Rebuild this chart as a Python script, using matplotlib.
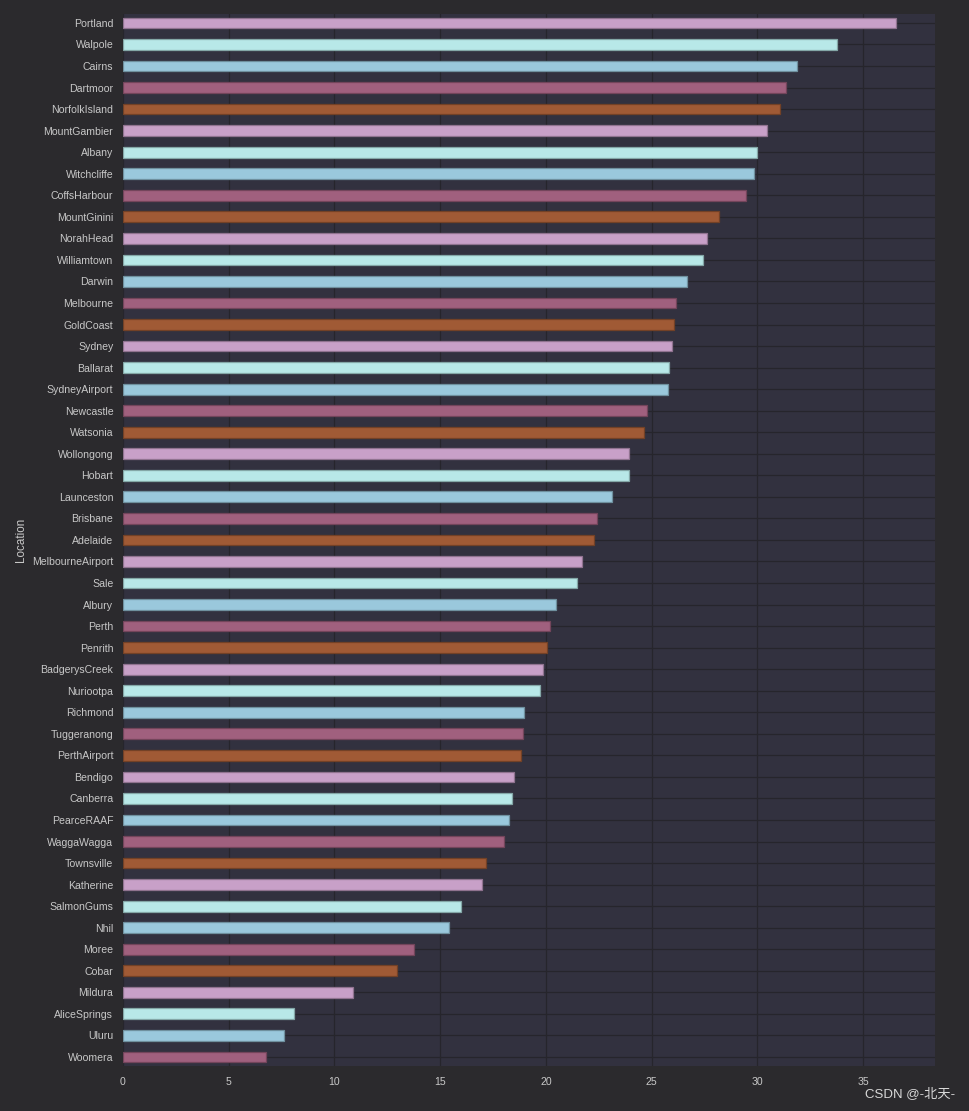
"""Horizontal bar chart of per-location values (dark theme)."""

import numpy as np
import matplotlib

matplotlib.use("Agg")
import matplotlib.pyplot as plt
from matplotlib.colors import to_rgb

plt.rcParams["font.family"] = ["Liberation Sans", "Noto Sans CJK SC", "DejaVu Sans"]

locations = [
    "Portland", "Walpole", "Cairns", "Dartmoor", "NorfolkIsland", "MountGambier",
    "Albany", "Witchcliffe", "CoffsHarbour", "MountGinini", "NorahHead",
    "Williamtown", "Darwin", "Melbourne", "GoldCoast", "Sydney", "Ballarat",
    "SydneyAirport", "Newcastle", "Watsonia", "Wollongong", "Hobart",
    "Launceston", "Brisbane", "Adelaide", "MelbourneAirport", "Sale", "Albury",
    "Perth", "Penrith", "BadgerysCreek", "Nuriootpa", "Richmond", "Tuggeranong",
    "PerthAirport", "Bendigo", "Canberra", "PearceRAAF", "WaggaWagga",
    "Townsville", "Katherine", "SalmonGums", "Nhil", "Moree", "Cobar",
    "Mildura", "AliceSprings", "Uluru", "Woomera",
]
values = [
    36.57, 33.74, 31.86, 31.34, 31.08, 30.43, 29.97, 29.83, 29.45, 28.19,
    27.63, 27.44, 26.68, 26.16, 26.06, 25.97, 25.83, 25.78, 24.79, 24.65,
    23.94, 23.92, 23.13, 22.42, 22.28, 21.71, 21.48, 20.48, 20.20, 20.06,
    19.87, 19.73, 18.97, 18.92, 18.83, 18.50, 18.40, 18.26, 18.02, 17.17,
    16.98, 15.99, 15.42, 13.77, 12.95, 10.86, 8.07, 7.62, 6.75,
]
palette = ["#c8a0c8", "#b8e8e8", "#9ac8dc", "#a0607e", "#a05a35"]

FIG_BG = "#2b2a2d"
AX_BG = "#32313f"
TXT = "#c8c8c8"
GRID = "#26252c"


def darker(c, f=0.72):
    return tuple(v * f for v in to_rgb(c))


fig = plt.figure(figsize=(9.7, 11.11), dpi=100, facecolor=FIG_BG)
ax = fig.add_axes([0.1268, 0.0405, 0.8372, 0.947], facecolor=AX_BG)

y = np.arange(len(locations))
cols = [palette[i % len(palette)] for i in range(len(locations))]
ax.barh(y, values, height=0.5, color=cols,
        edgecolor=[darker(c) for c in cols], linewidth=0.9, zorder=3)

ax.set_yticks(y)
ax.set_yticklabels(locations)
ax.set_ylim(len(locations) - 1 + 0.42, -0.42)
ax.set_xlim(0, 38.4)
ax.set_xticks([0, 5, 10, 15, 20, 25, 30, 35])

ax.grid(True, color=GRID, linewidth=0.9, zorder=0)
ax.set_axisbelow(True)
ax.tick_params(axis="both", length=0, colors=TXT, labelsize=7.6)
ax.tick_params(axis="y", pad=7)
ax.tick_params(axis="x", pad=8)
for s in ax.spines.values():
    s.set_visible(False)

ax.set_ylabel("Location", color=TXT, fontsize=8.4)
ax.yaxis.set_label_coords(-0.118, 0.5)

fig.text(0.9845, 0.0153, "CSDN @-北天-", color="#d8d8d8", fontsize=9.5,
         ha="right", va="center")

fig.savefig("out.png", dpi=100, facecolor=FIG_BG)
